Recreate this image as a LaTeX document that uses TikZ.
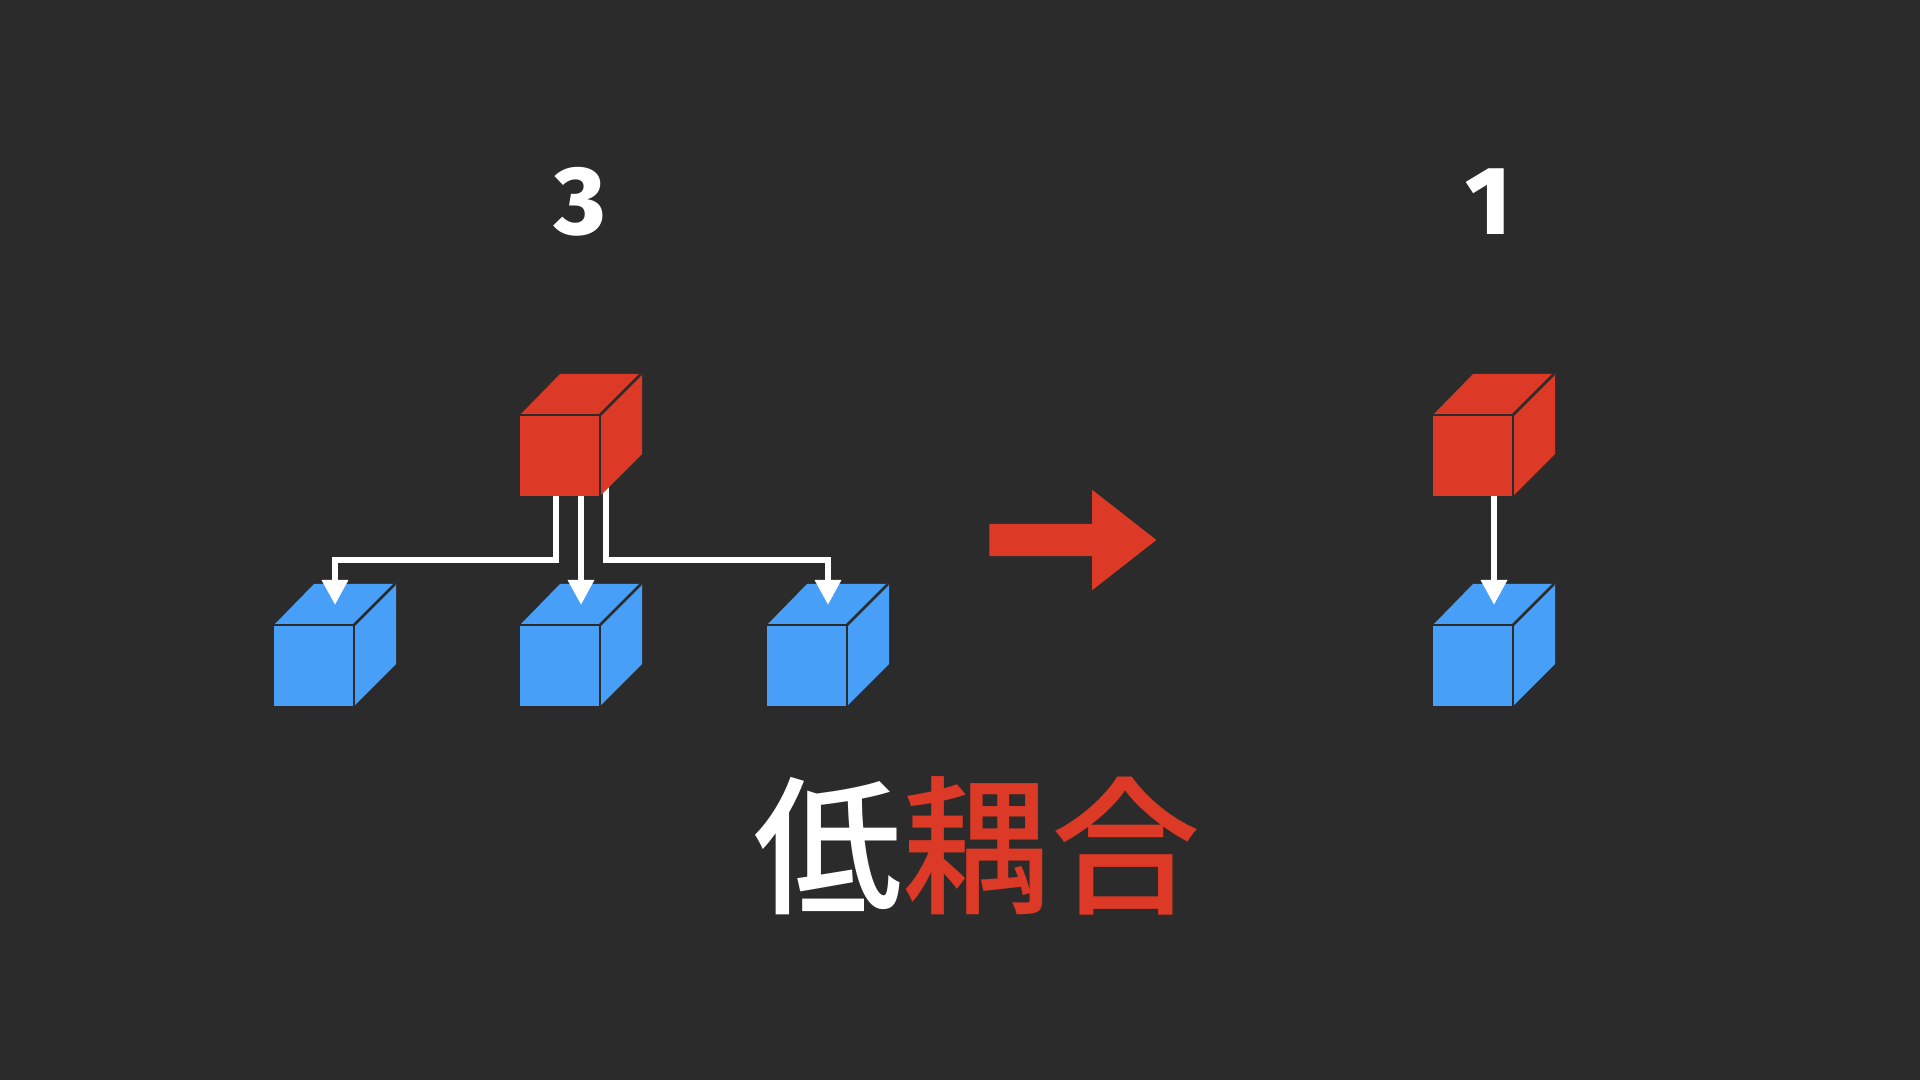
\documentclass[tikz,border=0pt]{standalone}
\usepackage{fontspec}
\setmainfont{Fira Sans ExtraBold}
\newfontfamily\cjk{Noto Sans CJK JP Medium}
\usetikzlibrary{positioning, shapes.arrows, arrows.meta}
\definecolor{bgdark}{HTML}{2B2B2B}
\definecolor{cubered}{HTML}{DC3A26}
\definecolor{cubeblue}{HTML}{479FF8}

% silhouette first, then the three inner edges
\newcommand{\cubefaces}[2]{
    \fill[#2] (#1.north west) -- ++(40pt,41pt) -- ++(82pt,0pt) -- ++(0pt,-80pt) -- (#1.south east) -- (#1.south west) -- cycle;
    \draw[cubeedge] (#1.north west) -- (#1.north east) -- (#1.south east);
    \draw[cubeedge] (#1.north east) -- ++(41pt,41pt);
}

\begin{document}
\begin{tikzpicture}[
        x=1pt, y=1pt,
        node distance=129pt and 166pt,
        front/.style={rectangle, inner sep=0pt, outer sep=0pt, minimum width=80pt, minimum height=81pt},
        cubeedge/.style={draw=bgdark, line width=2.5pt},
        wire/.style={draw=white, line width=6.5pt},
        wirehead/.style={wire, -{Triangle[width=25pt, length=25pt]}},
        count/.style={font=\fontsize{97}{97}\selectfont, text=white, inner sep=0pt}
    ]
    \fill[bgdark] (0,0) rectangle (1920,1080);
    \useasboundingbox (0,0) rectangle (1920,1080);

    % bottom row
    \node[front] (redone) at (560,624.5) {};
    \node[front, below=of redone] (bluetwo) {};
    \node[front, left=of bluetwo] (blueone) {};
    \node[front, right=167pt of bluetwo] (bluethree) {};
    \node[front] (redtwo) at (1473,624.5) {};
    \node[front, below=of redtwo] (bluefour) {};
    \cubefaces{blueone}{cubeblue}
    \cubefaces{bluetwo}{cubeblue}
    \cubefaces{bluethree}{cubeblue}
    \cubefaces{bluefour}{cubeblue}

    % connectors
    \coordinate (bus) at (0,520);
    \coordinate (startleft) at ([xshift=-4pt]redone.south);
    \coordinate (startmid) at ([xshift=21pt]redone.south);
    \coordinate (startright) at ([xshift=46pt, yshift=10pt]redone.south);
    \coordinate (startlast) at ([xshift=21pt]redtwo.south);
    \coordinate (tipone) at ([xshift=21pt, yshift=20pt]blueone.north);
    \coordinate (tiptwo) at ([xshift=21pt, yshift=20pt]bluetwo.north);
    \coordinate (tipthree) at ([xshift=21pt, yshift=20pt]bluethree.north);
    \coordinate (tipfour) at ([xshift=21pt, yshift=20pt]bluefour.north);
    \draw[wirehead] (startleft) -- (startleft|-bus) -- (tipone|-bus) -- (tipone);
    \draw[wirehead] (startmid) -- (tiptwo);
    \draw[wirehead] (startright) -- (startright|-bus) -- (tipthree|-bus) -- (tipthree);
    \draw[wirehead] (startlast) -- (tipfour);

    % top row
    \cubefaces{redone}{cubered}
    \cubefaces{redtwo}{cubered}

    \node[count] (countleft) at (580,878) {3};
    \node[count] (countright) at (1488,878) {1};

    % big arrow
    \node[single arrow, fill=cubered, inner sep=0pt, outer sep=0pt, minimum height=167pt, minimum width=100pt, single arrow head extend=34pt, single arrow tip angle=76, text height=32pt, text depth=0pt, text width=0pt] (bigarrow) at (1062.5,540) {};

    \node[font=\cjk\fontsize{149}{149}\selectfont, text=white, inner sep=0pt] (title) at (977,234.5) {低\textcolor{cubered}{耦合}};
\end{tikzpicture}
\end{document}
